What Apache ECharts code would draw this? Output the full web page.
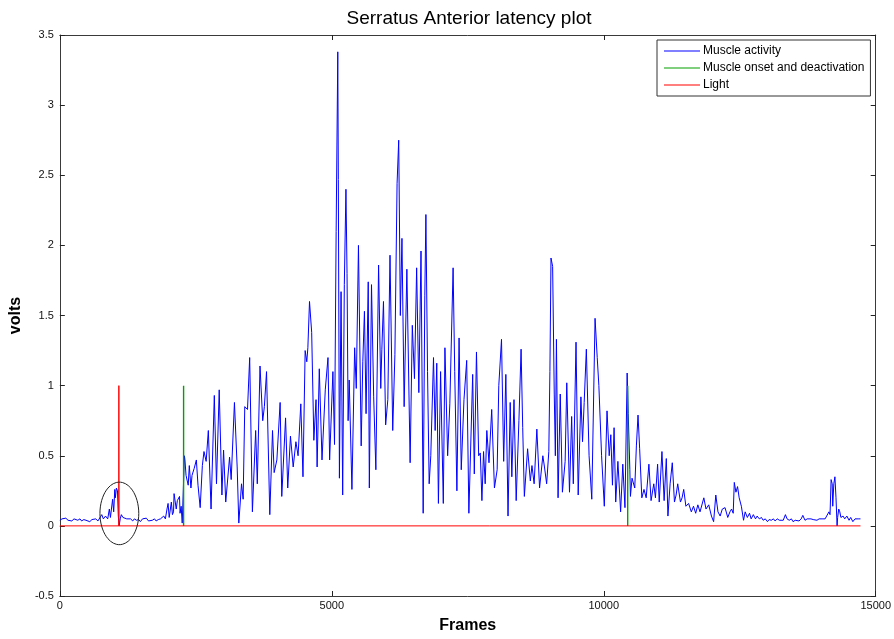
<!DOCTYPE html>
<html>
<head>
<meta charset="utf-8">
<script src="https://cdn.jsdelivr.net/npm/echarts@6/dist/echarts.min.js"></script>
<style>
  html, body { margin: 0; padding: 0; background: #fff; }
  #chart { width: 894px; height: 639px; }
</style>
</head>
<body>
<div id="chart"></div>
<script>
// EMG recording of the serratus anterior, sampled by frame
const emgFrames = [
  0, 40, 70, 110, 150, 180, 220, 260, 290, 330,
  370, 400, 440, 480, 510, 550, 590, 620, 660, 700,
  730, 770, 800, 840, 880, 910, 930, 950, 970, 990,
  1010, 1020, 1040, 1060, 1075, 1090, 1110, 1130, 1160, 1190,
  1230, 1260, 1300, 1340, 1370, 1410, 1450, 1480, 1520, 1550,
  1590, 1630, 1660, 1700, 1740, 1770, 1810, 1850, 1880, 1910,
  1940, 1970, 1990, 2010, 2050, 2070, 2090, 2100, 2140, 2160,
  2200, 2210, 2230, 2250, 2270, 2290, 2300, 2320, 2360, 2380,
  2410, 2430, 2470, 2510, 2540, 2580, 2620, 2650, 2690, 2730,
  2780, 2840, 2880, 2930, 2980, 3010, 3050, 3120, 3150, 3210,
  3260, 3290, 3340, 3370, 3400, 3450, 3490, 3540, 3600, 3630,
  3680, 3730, 3760, 3800, 3860, 3910, 3940, 3990, 4050, 4080,
  4150, 4190, 4240, 4290, 4340, 4380, 4430, 4470, 4510, 4540,
  4560, 4590, 4630, 4670, 4710, 4730, 4770, 4820, 4880, 4930,
  4960, 5020, 5050, 5080, 5110, 5120, 5140, 5170, 5200, 5230,
  5260, 5280, 5300, 5320, 5370, 5420, 5450, 5490, 5540, 5570,
  5600, 5630, 5670, 5690, 5730, 5770, 5810, 5860, 5900, 5920,
  5950, 5990, 6030, 6070, 6120, 6160, 6200, 6230, 6260, 6290,
  6330, 6380, 6440, 6480, 6520, 6560, 6600, 6640, 6680, 6710,
  6730, 6760, 6790, 6820, 6870, 6900, 6930, 6960, 7000, 7050,
  7080, 7130, 7170, 7230, 7260, 7300, 7340, 7380, 7430, 7480,
  7520, 7590, 7620, 7660, 7700, 7730, 7760, 7790, 7820, 7850,
  7890, 7940, 7990, 8040, 8070, 8120, 8160, 8200, 8240, 8280,
  8310, 8350, 8390, 8440, 8480, 8510, 8540, 8600, 8650, 8680,
  8720, 8770, 8820, 8880, 8910, 8950, 8990, 9010, 9030, 9060,
  9090, 9110, 9130, 9160, 9200, 9240, 9290, 9320, 9370, 9410,
  9440, 9490, 9530, 9580, 9610, 9640, 9680, 9730, 9780, 9840,
  9880, 9910, 9960, 10010, 10060, 10100, 10130, 10160, 10190, 10220,
  10260, 10310, 10350, 10390, 10430, 10450, 10480, 10490, 10520, 10570,
  10600, 10630, 10660, 10700, 10740, 10780, 10830, 10870, 10920, 10950,
  10990, 11020, 11070, 11110, 11150, 11180, 11220, 11260, 11300, 11330,
  11360, 11410, 11440, 11470, 11510, 11560, 11610, 11650, 11690, 11730,
  11770, 11840, 11880, 11930, 11980, 12020, 12060, 12100, 12140, 12180,
  12230, 12280, 12320, 12350, 12380, 12400, 12430, 12460, 12490, 12530,
  12570, 12600, 12640, 12680, 12710, 12750, 12790, 12820, 12860, 12900,
  12930, 12970, 13010, 13040, 13080, 13120, 13150, 13190, 13230, 13260,
  13300, 13340, 13370, 13410, 13450, 13480, 13520, 13550, 13590, 13630,
  13660, 13700, 13740, 13770, 13810, 13850, 13880, 13920, 13960, 13990,
  14030, 14070, 14100, 14140, 14160, 14180, 14200, 14210, 14230, 14250,
  14270, 14290, 14300, 14320, 14340, 14360, 14400, 14430, 14470, 14510,
  14540, 14580, 14620, 14650, 14690, 14720
];
const emgVolts = [
  .04, .05, .045, .055, .04, .05, .035, .05, .045, .04,
  .05, .035, .045, .04, .05, .03, .045, .04, .05, .035,
  .045, .08, .05, .07, .05, .12, .06, .07, .19, .10,
  .26, .20, .27, .25, .07, 0, .05, .08, .06, .07,
  .05, .04, .05, .035, .05, .04, .045, .03, .05, .04,
  .055, .035, .045, .04, .05, .035, .045, .05, .04, .07,
  .05, .12, .16, .06, .17, .08, .10, .23, .12, .18,
  .21, .09, .14, .02, .01, .50, .47, .36, .29, .43,
  .27, .36, .41, .47, .29, .13, .43, .53, .46, .68,
  .12, .93, .30, .97, .22, .54, .17, .49, .33, .88,
  .42, .02, .30, .19, .85, .83, 1.20, .10, .68, .30,
  1.14, .75, .85, 1.10, .08, .68, .38, .47, .88, .21,
  .77, .27, .64, .42, .60, .50, .87, .35, 1.25, 1.17,
  1.27, 1.60, 1.38, .61, .90, .42, 1.12, .47, .97, 1.20,
  .47, 1.10, .58, 2.10, 3.38, 2.47, .34, 1.67, .22, 1.72,
  2.40, 1.80, .75, 1.04, .26, 1.27, .98, 2.00, .57, 1.17,
  1.53, .80, 1.74, .27, 1.72, .92, .40, 1.86, .98, 1.26,
  1.60, .72, .90, 1.93, .68, 1.22, 2.44, 2.75, 1.50, 2.05,
  .85, 1.83, .45, 1.43, 1.05, 1.84, .95, 1.96, .09, 1.64,
  2.22, 1.10, .30, .50, 1.20, .68, 1.16, .16, 1.10, .16,
  1.27, .50, .87, 1.84, 1.10, .25, 1.34, .40, .90, 1.18,
  .09, 1.08, .37, 1.24, .50, .52, .18, .53, .30, .68,
  .45, .83, .27, .40, 1.00, 1.33, .46, 1.08, .07, .88,
  .35, .90, .18, .75, 1.26, .70, .21, .55, .32, .43,
  .30, .69, .27, .50, .42, .30, .53, 1.10, 1.91, 1.85,
  .94, .50, 1.33, .20, .94, .24, .46, 1.02, .24, .78,
  .30, 1.31, .22, .92, .60, .88, 1.26, .50, .19, 1.48,
  1.20, 1.00, .50, .14, .82, .50, .65, .29, .70, .17,
  .46, .10, .44, .13, 1.09, .80, .40, .21, .34, .27,
  .57, .79, .55, .20, .26, .20, .44, .18, .30, .20,
  .44, .17, .53, .18, .48, .07, .30, .45, .17, .22,
  .30, .17, .20, .26, .14, .16, .10, .14, .09, .15,
  .10, .20, .12, .15, .07, .03, .22, .10, .07, .12,
  .13, .06, .10, .12, .09, .31, .24, .28, .20, .14,
  .04, .10, .06, .09, .05, .08, .05, .07, .05, .06,
  .04, .05, .03, .045, .04, .05, .035, .05, .04, .05,
  .04, .08, .05, .04, .05, .03, .04, .05, .035, .05,
  .075, .04, .05, .04, .05, .045, .05, .04, .05, .045,
  .05, .05, .06, .10, .08, .33, .30, .14, .30, .35,
  .20, 0, .06, .12, .10, .06, .07, .05, .07, .04,
  .06, .03, .05, .045, .05, .05
];

// Muscle onset and deactivation events (frame, marker height)
const onsetFrames = [2275, 10440];
const onsetHeight = 1;

// Light stimulus channel: baseline over the recording, pulse at the cue
const lightCueFrame = 1085;
const lightHeight = 1;
const recordStart = 0;
const recordEnd = 14720;

// Axis ticks
const xTicks = [0, 5000, 10000, 15000];
const yTicks = [-0.5, 0, 0.5, 1, 1.5, 2, 2.5, 3, 3.5];

// Ring drawn around the early response before the light cue
const ringCenter = [1094, 0.089];
const ringRadius = [357, 0.223];

const seriesNames = ['Muscle activity', 'Muscle onset and deactivation', 'Light'];

function pairs(xs, ys) { return xs.map((x, i) => [x, ys[i]]); }

// vertical strokes from 0 up to the marker height, separated by gaps
const onsetData = [];
onsetFrames.forEach((f, i) => {
  if (i > 0) onsetData.push(null);
  onsetData.push([f, 0], [f, onsetHeight]);
});

const lightData = [
  [recordStart, 0], [lightCueFrame, 0], [lightCueFrame, lightHeight],
  [lightCueFrame, 0], [recordEnd, 0]
];

const ring = [];
for (let k = 0; k <= 120; k++) {
  const t = (k / 120) * Math.PI * 2;
  ring.push([ringCenter[0] + ringRadius[0] * Math.cos(t), ringCenter[1] + ringRadius[1] * Math.sin(t)]);
}

const FONT = '"Liberation Sans", Arial, Helvetica, sans-serif';
const xMin = xTicks[0], xMax = xTicks[xTicks.length - 1], xStep = xTicks[1] - xTicks[0];
const yMin = yTicks[0], yMax = yTicks[yTicks.length - 1], yStep = yTicks[1] - yTicks[0];

const axisLine = { show: true, onZero: false, lineStyle: { color: '#3a3a3a', width: 1 } };
const axisTick = { show: true, inside: true, length: 5, lineStyle: { color: '#222', width: 1 } };
const plain = v => String(v);

const chart = echarts.init(document.getElementById('chart'), null, { renderer: 'canvas' });
chart.setOption({
  animation: false,
  backgroundColor: '#ffffff',
  textStyle: { fontFamily: FONT },
  title: {
    text: 'Serratus Anterior latency plot',
    left: 464,
    textAlign: 'center',
    top: 4,
    textStyle: { fontFamily: FONT, fontSize: 19, fontWeight: 'normal', color: '#000' }
  },
  grid: { left: 58, right: 16, top: 35, bottom: 39, containLabel: false },
  legend: {
    data: seriesNames,
    orient: 'vertical',
    left: 657,
    top: 40,
    backgroundColor: '#ffffff',
    borderColor: '#333',
    borderWidth: 1,
    borderRadius: 0,
    padding: [5, 6, 5, 7],
    itemGap: 5,
    itemWidth: 36,
    itemHeight: 1,
    icon: 'rect',
    textStyle: { fontFamily: FONT, fontSize: 12, color: '#000', padding: [0, 0, 0, -2] }
  },
  xAxis: [
    {
      type: 'value', min: xMin, max: xMax, interval: xStep, position: 'bottom',
      axisLine: axisLine, axisTick: axisTick, splitLine: { show: false },
      axisLabel: { margin: 4, fontFamily: FONT, fontSize: 11, color: '#111', formatter: plain },
      name: 'Frames', nameLocation: 'middle', nameGap: 22,
      nameTextStyle: { fontFamily: FONT, fontSize: 16, fontWeight: 'bold', color: '#000' }
    },
    {
      type: 'value', min: xMin, max: xMax, interval: xStep, position: 'top',
      axisLine: axisLine, axisTick: axisTick, splitLine: { show: false },
      axisLabel: { show: false }
    }
  ],
  yAxis: [
    {
      type: 'value', min: yMin, max: yMax, interval: yStep, position: 'left',
      axisLine: axisLine, axisTick: axisTick, splitLine: { show: false },
      axisLabel: { margin: 6, fontFamily: FONT, fontSize: 11, color: '#111', formatter: plain },
      name: 'volts', nameLocation: 'middle', nameGap: 29,
      nameTextStyle: { fontFamily: FONT, fontSize: 16, fontWeight: 'bold', color: '#000' }
    },
    {
      type: 'value', min: yMin, max: yMax, interval: yStep, position: 'right',
      axisLine: axisLine, axisTick: axisTick, splitLine: { show: false },
      axisLabel: { show: false }
    }
  ],
  series: [
    {
      name: seriesNames[0], type: 'line', data: pairs(emgFrames, emgVolts),
      symbol: 'none', color: '#0000ff', lineStyle: { color: '#0000ff', width: 1 }, z: 2
    },
    {
      name: seriesNames[1], type: 'line', data: onsetData, connectNulls: false,
      symbol: 'none', color: '#00a000', lineStyle: { color: '#00a000', width: 1.4 }, z: 3
    },
    {
      name: seriesNames[2], type: 'line', data: lightData,
      symbol: 'none', color: '#ff0000', lineStyle: { color: '#ff0000', width: 1 }, z: 4
    },
    {
      name: 'ring', type: 'line', data: ring, symbol: 'none', silent: true,
      lineStyle: { color: '#222', width: 1 }, z: 5
    }
  ]
});
</script>
</body>
</html>
